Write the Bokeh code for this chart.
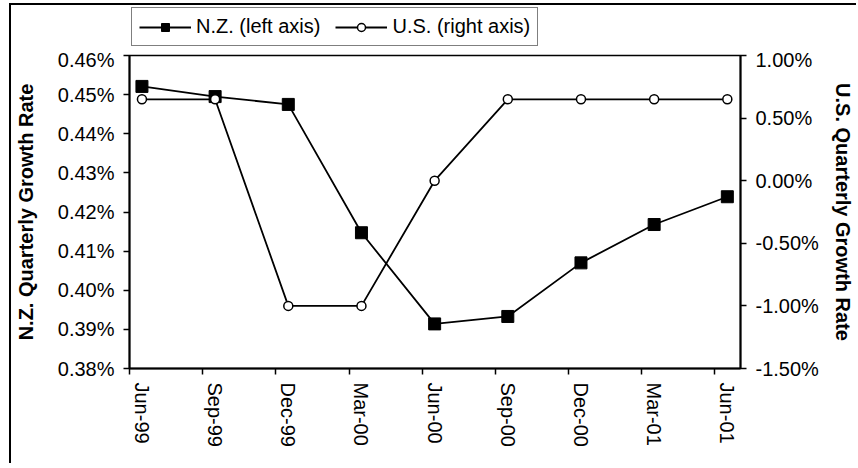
import math
from bokeh.plotting import figure
from bokeh.layouts import column
from bokeh.models import (Range1d, LinearAxis, FixedTicker, PrintfTickFormatter,
                          Legend, LegendItem, ColumnDataSource)
from bokeh.embed import file_html
from bokeh.resources import INLINE

# ---- data ----
quarters = ["Jun-99", "Sep-99", "Dec-99", "Mar-00", "Jun-00",
            "Sep-00", "Dec-00", "Mar-01", "Jun-01"]
nz_growth = [0.4521, 0.4495, 0.4475, 0.4147, 0.3914, 0.3933, 0.4070, 0.4168, 0.4239]
us_growth = [0.65, 0.65, -1.00, -1.00, 0.00, 0.65, 0.65, 0.65, 0.65]
nz_ticks = [0.38, 0.39, 0.40, 0.41, 0.42, 0.43, 0.44, 0.45, 0.46]
us_ticks = [-1.5, -1.0, -0.5, 0.0, 0.5, 1.0]
nz_title = "N.Z. Quarterly Growth Rate"
us_title = "U.S. Quarterly Growth Rate"
nz_label = "N.Z. (left axis)"
us_label = "U.S. (right axis)"

idx = list(range(len(quarters)))
src = ColumnDataSource(dict(x=idx, nz=nz_growth, us=us_growth))

FONT = "Liberation Sans"
W = 845
LH = 43                      # legend strip height
H = 415                      # chart height
FL, FR, FT, FB = 118, 734, 7, 320   # frame edges inside the chart canvas

NZ_LINE = dict(line_color="black", line_width=1.8)
NZ_MARK = dict(marker="square", size=12, fill_color="black", line_color="black")
US_LINE = dict(line_color="black", line_width=1.8)
US_MARK = dict(marker="circle", size=9, fill_color="white", line_color="black",
               line_width=1.5)

# ---------------- main chart ----------------
p = figure(width=W, height=H, output_backend="svg", toolbar_location=None,
           x_range=Range1d(-0.17, 8.18), y_range=Range1d(nz_ticks[0], nz_ticks[-1]),
           min_border_left=FL, min_border_right=W - FR,
           min_border_top=FT, min_border_bottom=H - FB)
p.extra_y_ranges = {"us": Range1d(us_ticks[0], us_ticks[-1])}
p.grid.visible = False
p.outline_line_color = "black"
p.outline_line_width = 1.5

def style_axis(ax, standoff):
    ax.axis_line_color = "black"
    ax.axis_line_width = 2
    ax.major_tick_line_color = "black"
    ax.major_tick_line_width = 1.5
    ax.major_tick_in = 0
    ax.major_tick_out = 6
    ax.minor_tick_line_color = None
    ax.major_label_text_font = FONT
    ax.major_label_text_font_size = "20px"
    ax.major_label_text_color = "black"
    ax.major_label_standoff = standoff
    ax.axis_label_text_font = FONT
    ax.axis_label_text_font_size = "20px"
    ax.axis_label_text_font_style = "bold"
    ax.axis_label_text_color = "black"

# x axis: labels at the data points, tick marks offset as in the source chart
xax = p.xaxis[0]
xax.ticker = FixedTicker(ticks=idx, minor_ticks=[i - 0.17 for i in idx])
style_axis(xax, 8)
xax.major_tick_line_color = None
xax.minor_tick_line_color = "black"
xax.minor_tick_line_width = 1.5
xax.minor_tick_in = 0
xax.minor_tick_out = 6
xax.major_label_orientation = "vertical"
xax.major_label_overrides = {i: q for i, q in zip(idx, quarters)}

# left axis
lax = p.yaxis[0]
lax.ticker = FixedTicker(ticks=nz_ticks)
lax.formatter = PrintfTickFormatter(format="%.2f%%")
lax.axis_label = nz_title
style_axis(lax, 9)
lax.axis_label_standoff = 18

# right axis
rax = LinearAxis(y_range_name="us", ticker=FixedTicker(ticks=us_ticks),
                 formatter=PrintfTickFormatter(format="%.2f%%"),
                 axis_label=us_title)
style_axis(rax, 9)
rax.axis_label_standoff = 10
p.add_layout(rax, "right")

# series
nz_line = p.line("x", "nz", source=src, **NZ_LINE)
nz_pts = p.scatter("x", "nz", source=src, **NZ_MARK)
us_line = p.line("x", "us", source=src, y_range_name="us", **US_LINE)
us_pts = p.scatter("x", "us", source=src, y_range_name="us", **US_MARK)

# ---------------- legend strip above the chart ----------------
# proxy renderers (same styles, drawn out of view) so the legend shows its keys
lf = figure(width=W, height=LH, output_backend="svg", toolbar_location=None,
            x_range=Range1d(100, 101), y_range=Range1d(100, 101),
            x_axis_location=None, y_axis_location=None,
            min_border_left=FL, min_border_right=0,
            min_border_top=0, min_border_bottom=0)
lf.grid.visible = False
lf.outline_line_color = None
k1 = lf.line("x", "nz", source=src, **NZ_LINE)
k2 = lf.scatter("x", "nz", source=src, **NZ_MARK)
k3 = lf.line("x", "us", source=src, **US_LINE)
k4 = lf.scatter("x", "us", source=src, **US_MARK)

legend = Legend(items=[LegendItem(label=nz_label, renderers=[k1, k2]),
                       LegendItem(label=us_label, renderers=[k3, k4])],
                orientation="horizontal", location=(2, 2))
legend.margin = 0
legend.padding = 7
legend.spacing = 15
legend.glyph_width = 52
legend.label_standoff = 5
legend.label_text_font = FONT
legend.label_text_font_size = "20px"
legend.label_text_color = "black"
legend.border_line_color = "black"
legend.border_line_width = 1.5
legend.background_fill_color = "white"
lf.add_layout(legend, "center")

page = column(lf, p, spacing=0)
page.styles = {"margin-left": "9px", "margin-top": "3px",
               "border-left": "2px solid black", "border-top": "2px solid black"}

open("out.html", "w").write(file_html(page, INLINE))
